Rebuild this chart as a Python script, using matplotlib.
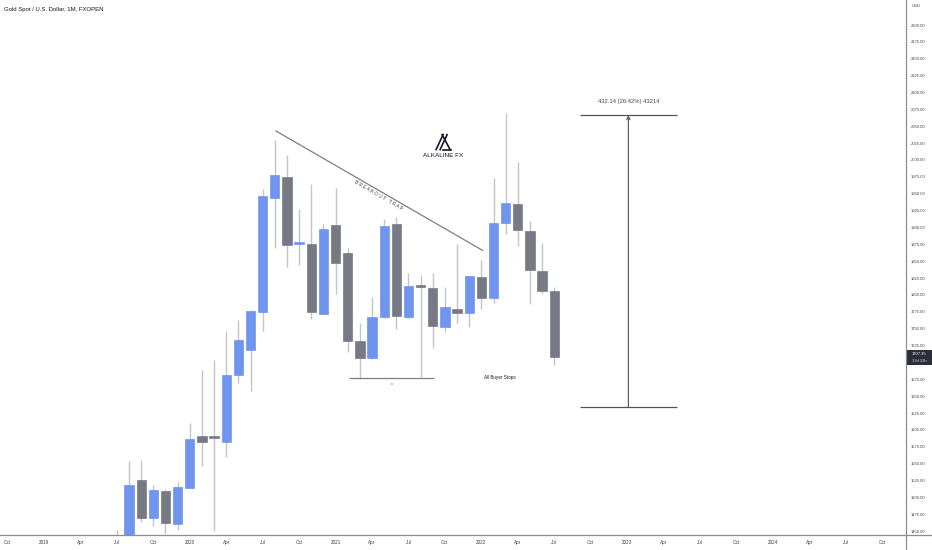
import numpy as np
import matplotlib
matplotlib.use("Agg")
import matplotlib.pyplot as plt
from matplotlib.lines import Line2D
from matplotlib.patches import Rectangle

plt.rcParams['font.family'] = ['Liberation Sans', 'DejaVu Sans']

# monthly candles (Jul 2019 .. Jul 2022)
months = ["2019-07", "2019-08", "2019-09", "2019-10", "2019-11", "2019-12",
          "2020-01", "2020-02", "2020-03", "2020-04", "2020-05", "2020-06",
          "2020-07", "2020-08", "2020-09", "2020-10", "2020-11", "2020-12",
          "2021-01", "2021-02", "2021-03", "2021-04", "2021-05", "2021-06",
          "2021-07", "2021-08", "2021-09", "2021-10", "2021-11", "2021-12",
          "2022-01", "2022-02", "2022-03", "2022-04", "2022-05", "2022-06",
          "2022-07"]
opens = [1409, 1413, 1525, 1469, 1510, 1461, 1514, 1591, 1590, 1582, 1682, 1719,
         1775, 1943, 1975, 1875, 1876, 1772, 1903, 1862, 1732, 1706, 1767, 1905,
         1768, 1813, 1811, 1753, 1779, 1773, 1827, 1796, 1906, 1935, 1895, 1836,
         1806]
highs = [1451, 1554, 1555, 1518, 1513, 1523, 1610, 1689, 1703, 1747, 1763, 1777,
         1957, 2030, 2007, 1928, 1964, 1905, 1958, 1870, 1759, 1797, 1912, 1916,
         1832, 1830, 1832, 1812, 1875, 1828, 1852, 1973, 2069, 1997, 1909, 1877,
         1812]
lows = [1400, 1400, 1463, 1458, 1445, 1452, 1514, 1546, 1450, 1560, 1669, 1657,
        1746, 1870, 1841, 1845, 1764, 1771, 1801, 1716, 1676, 1705, 1766, 1749,
        1766, 1679, 1721, 1745, 1758, 1752, 1779, 1788, 1890, 1872, 1787, 1802,
        1696]
closes = [1413, 1518, 1470, 1511, 1462, 1515, 1587, 1582, 1588, 1682, 1733, 1776,
          1946, 1978, 1874, 1878, 1775, 1897, 1847, 1732, 1706, 1767, 1902, 1769,
          1813, 1812, 1754, 1782, 1773, 1828, 1796, 1907, 1936, 1896, 1837, 1806,
          1707.35]

price_ticks = [p for p in range(1450, 2201, 25) if p != 1700]
month_names = ["Jan", "Feb", "Mar", "Apr", "May", "Jun",
               "Jul", "Aug", "Sep", "Oct", "Nov", "Dec"]

# drawings on the chart
trend_start = ("2020-08", 2043)
trend_end = ("2022-01", 1866)
measure_top = 2066.4
measure_bottom = 1634.3
measure_text = "432.14 (26.42%) 43214"
stops_level = 1676.4
last_timer = "13d 13h"

BLUE = "#6f95ef"
GREY = "#777a84"
WICK = "#c3c5cb"
LINE = "#7b7e88"
TEXT = "#131722"


def month_index(s):
    y, m = s.split("-")
    return (int(y) - 2019) * 12 + int(m) - 1


xs = np.array([month_index(s) for s in months])

W, H = 932, 550
fig = plt.figure(figsize=(W / 100, H / 100), dpi=100)
fig.patch.set_facecolor("white")
ax = fig.add_axes([0, 15 / H, 906 / W, 535 / H])
ax.set_xlim(-3.62, 70.95)
ax.set_ylim(1444.2, 2237.1)
for sp in ax.spines.values():
    sp.set_visible(False)

# candles
for x, o, h, l, c in zip(xs, opens, highs, lows, closes):
    col = BLUE if c > o else GREY
    ax.vlines(x, l, h, color=WICK, lw=1.0, zorder=1)
    ax.bar(x, max(abs(c - o), 2.2), bottom=min(o, c), width=0.765,
           color=col, edgecolor=col, lw=0.5, zorder=2)

# x axis ticks
tick_m = list(range(-3, 70, 3))
tick_lbl = [str(2019 + m // 12) if m % 12 == 0 else month_names[m % 12] for m in tick_m]
ax.set_xticks(tick_m)
ax.set_xticklabels(tick_lbl)
ax.tick_params(axis="x", length=0, pad=3.6, labelsize=3.3, labelcolor="#3b3f4a")

# y axis on the right
ax.yaxis.tick_right()
ax.set_yticks(price_ticks)
ax.set_yticklabels([f"{p:.2f}" for p in price_ticks])
ax.tick_params(axis="y", length=0, pad=3.4, labelsize=3.0, labelcolor="#3b3f4a")

# frame lines
fig.add_artist(Line2D([0, 1], [15 / H, 15 / H], color="#8a8d96", lw=0.9))
fig.add_artist(Line2D([906 / W, 906 / W], [0, 1], color="#8a8d96", lw=0.9))

# title and currency
fig.text(4 / W, 1 - 10 / H, "Gold Spot / U.S. Dollar, 1M, FXOPEN", fontsize=4.3,
         color=TEXT, va="center", ha="left")
fig.text(912 / W, 1 - 6 / H, "USD", fontsize=3.0, color="#3b3f4a", va="center")

# breakout trap trendline
tx = [month_index(trend_start[0]) + 0.09, month_index(trend_end[0]) + 0.1]
ty = [trend_start[1], trend_end[1]]
ax.plot(tx, ty, color=LINE, lw=0.9, zorder=3)
fig.canvas.draw()
p1 = ax.transData.transform((tx[0], ty[0]))
p2 = ax.transData.transform((tx[1], ty[1]))
ang = np.degrees(np.arctan2(p2[1] - p1[1], p2[0] - p1[0]))
ax.text(27.5, 1948, " ".join("BREAKOUT TRAP"), rotation=ang, rotation_mode="anchor",
        ha="center", va="center", fontsize=3.4, color="#434651")

# logo
ax.text(32.85, 2006.5, "ALKALINE FX", fontsize=4.6, color=TEXT, ha="center", va="center")
lx, ly = ax.transData.transform((32.85, 2006.5))
strokes = [((-7, 6), (0, 21)), ((-3, 6), (4, 21)), ((-1, 21), (7, 6)),
           ((0, 6), (8, 6))]
for (a, b) in strokes:
    fig.add_artist(Line2D([(lx + a[0]) / W, (lx + b[0]) / W],
                          [(ly + a[1]) / H, (ly + b[1]) / H], color=TEXT, lw=1.2))

# measurement tool
mx0, mx1 = 44.1, 52.1
mxc = (mx0 + mx1) / 2
ax.hlines([measure_top, measure_bottom], mx0, mx1, color="#50535e", lw=0.9)
ax.annotate("", xy=(mxc, measure_top), xytext=(mxc, measure_bottom),
            arrowprops=dict(arrowstyle="->", lw=0.8, color="#50535e",
                            shrinkA=0, shrinkB=0, mutation_scale=6))
ax.text(mxc, 2087, measure_text, fontsize=4.2, color="#434651", ha="center", va="center")

# buyer stops
ax.hlines(stops_level, 25.1, 32.1, color=LINE, lw=0.9)
ax.text(28.6, 1668, "x", fontsize=2.8, color="#434651", ha="center", va="center")
ax.text(37.5, 1678, "All Buyer Stops", fontsize=3.3, color=TEXT, ha="center", va="center")

# last price box
yb = ax.transData.transform((0, closes[-1]))[1]
fig.add_artist(Rectangle((907 / W, (yb - 7.5) / H), 25 / W, 15 / H,
                         facecolor="#2a2e39", edgecolor="none", transform=fig.transFigure))
fig.text(919.5 / W, (yb + 3.2) / H, f"{closes[-1]:.2f}", fontsize=3.0, color="white",
         ha="center", va="center")
fig.text(919.5 / W, (yb - 3.2) / H, last_timer, fontsize=3.0, color="#d1d4dc",
         ha="center", va="center")

fig.savefig("out.png", dpi=100)
